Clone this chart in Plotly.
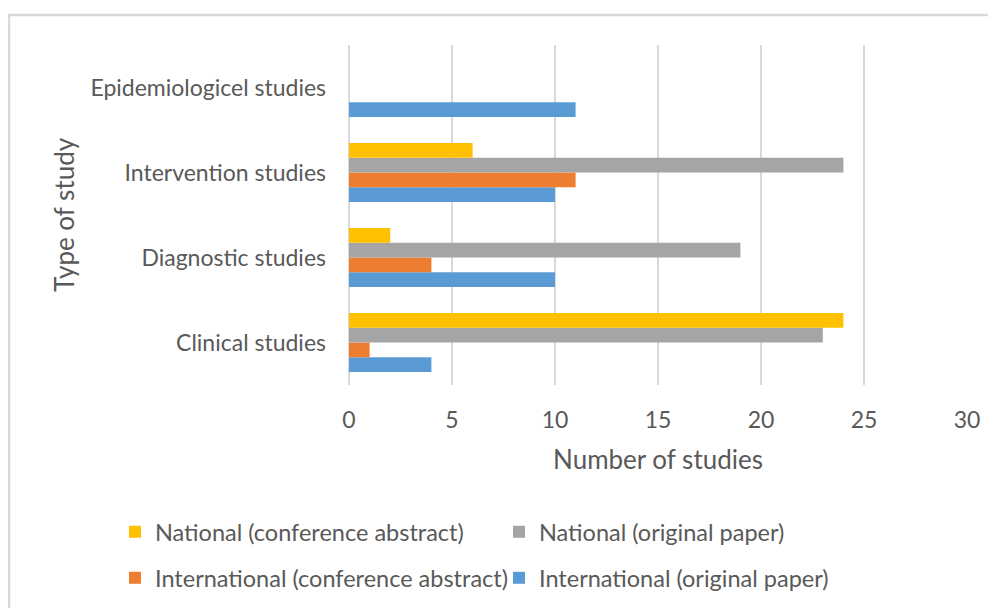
import plotly.graph_objects as go

categories = ["Clinical studies", "Diagnostic studies", "Intervention studies", "Epidemiologicel studies"]
intl_original = [4, 10, 10, 11]
intl_conference = [1, 4, 11, 0]
natl_original = [23, 19, 24, 0]
natl_conference = [24, 2, 6, 0]

series = [
    ("International (original paper)", intl_original, "#5B9BD5", "legend2", 4),
    ("International (conference abstract)", intl_conference, "#ED7D31", "legend2", 3),
    ("National (original paper)", natl_original, "#A5A5A5", "legend", 2),
    ("National (conference abstract)", natl_conference, "#FFC000", "legend", 1),
]

FONT = "Lato"
TXT = "#595959"
GRID = "#D9D9D9"

fig = go.Figure()
for name, vals, color, leg, rank in series:
    fig.add_trace(go.Bar(
        y=categories, x=vals, name=name, orientation="h",
        marker=dict(color=color, line=dict(width=0)),
        legend=leg, legendrank=rank,
    ))

# page has an 8px body margin, so work in figure coords = screen - 8
OFF = 8
W, H = 996 - OFF, 608 - OFF
L, R, T, B = 349 - OFF, 29, 45 - OFF, 223
pw, ph = W - L - R, H - T - B

def px2x(px):
    return (px - OFF - L) / pw

def py2y(py):
    return (H - B - (py - OFF)) / ph

fig.update_layout(
    width=W, height=H,
    margin=dict(l=L, r=R, t=T, b=B, autoexpand=False),
    paper_bgcolor="white", plot_bgcolor="white",
    barmode="group", bargap=0.306, bargroupgap=0,
    font=dict(family=FONT, size=23, color=TXT),
    xaxis=dict(
        range=[0, 30], dtick=5, showgrid=True, gridcolor=GRID, gridwidth=1.5,
        zeroline=True, zerolinecolor=GRID, zerolinewidth=1.5, showline=False,
        ticks="", ticklabelstandoff=19,
        tickfont=dict(family=FONT, size=23, color=TXT),
        title=dict(text="Number of studies", standoff=18,
                   font=dict(family=FONT, size=26, color=TXT)),
    ),
    yaxis=dict(
        showgrid=False, zeroline=False, showline=False, ticks="",
        ticklabelstandoff=22,
        tickfont=dict(family=FONT, size=23, color=TXT),
        title=dict(text="Type of study", standoff=8,
                   font=dict(family=FONT, size=26, color=TXT)),
    ),
    legend=dict(
        orientation="h", x=px2x(115), xanchor="left", y=py2y(532), yanchor="middle",
        entrywidth=339, entrywidthmode="pixels", traceorder="normal",
        font=dict(family=FONT, size=23.5, color=TXT), bgcolor="rgba(0,0,0,0)",
    ),
    legend2=dict(
        orientation="h", x=px2x(115), xanchor="left", y=py2y(578), yanchor="middle",
        entrywidth=339, entrywidthmode="pixels", traceorder="normal",
        font=dict(family=FONT, size=23.5, color=TXT), bgcolor="rgba(0,0,0,0)",
    ),
    shapes=[dict(
        type="rect", xref="paper", yref="paper", layer="below",
        x0=px2x(9), x1=px2x(1030), y0=py2y(650), y1=py2y(15),
        line=dict(color=GRID, width=2.5), fillcolor="rgba(0,0,0,0)",
    )],
)

fig.write_html("out.html")
